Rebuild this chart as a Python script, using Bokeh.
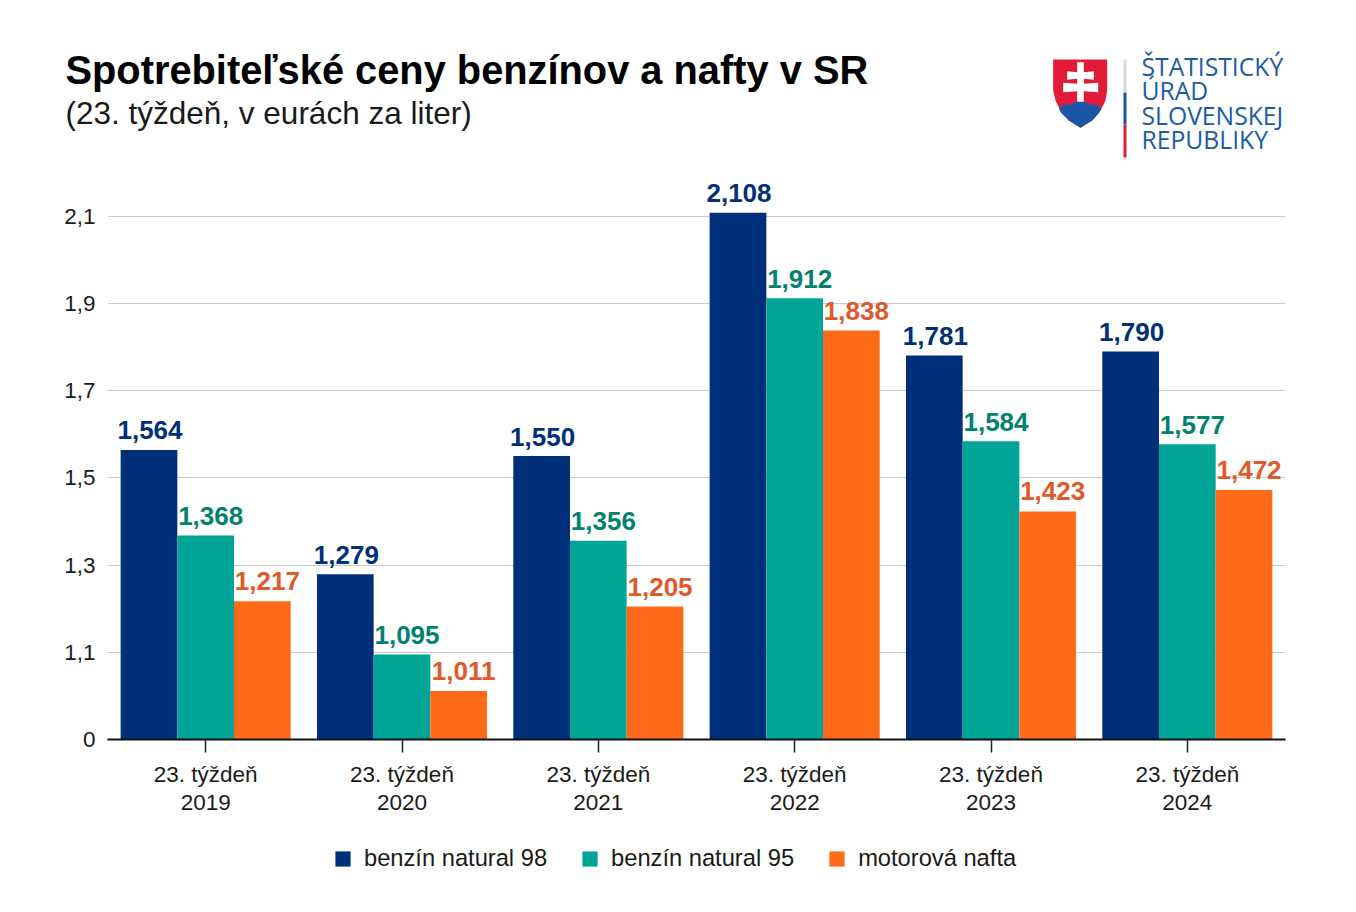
from bokeh.plotting import figure
from bokeh.embed import file_html
from bokeh.layouts import column
from bokeh.resources import INLINE
from bokeh.models import ColumnDataSource, Range1d, FixedTicker, Legend, LegendItem
from bokeh.core.properties import value

years = ["2019", "2020", "2021", "2022", "2023", "2024"]
natural_98 = [1.564, 1.279, 1.550, 2.108, 1.781, 1.790]
natural_95 = [1.368, 1.095, 1.356, 1.912, 1.584, 1.577]
nafta = [1.217, 1.011, 1.205, 1.838, 1.423, 1.472]
series_names = ["benzín natural 98", "benzín natural 95", "motorová nafta"]
y_ticks = [0.9, 1.1, 1.3, 1.5, 1.7, 1.9, 2.1]
y_labels = ["0", "1,1", "1,3", "1,5", "1,7", "1,9", "2,1"]
title_text = "Spotrebiteľské ceny benzínov a nafty v SR"
subtitle_text = "(23. týždeň, v eurách za liter)"
logo_lines = ["ŠTATISTICKÝ", "ÚRAD", "SLOVENSKEJ", "REPUBLIKY"]

FONT = "Liberation Sans"
colors = ["#002F7A", "#00A598", "#FF6A18"]
label_colors = ["#003079", "#00826F", "#E0592A"]
label_dx = [1, 5, 5]
label_dy = [-19.5, -19.5, -20]

# ---- header: title and logo, in a pixel-sized frame ----
H = 160
h = figure(width=1348, height=H, output_backend="svg", toolbar_location=None,
           x_range=Range1d(0, 1348), y_range=Range1d(H, 0), frame_align=False,
           min_border=0, min_border_left=0, min_border_right=0, min_border_top=0, min_border_bottom=0,
           x_axis_location=None, y_axis_location=None)
h.outline_line_color = None
h.grid.visible = False

def txt(t, x, yc, size, color, font=FONT, style="normal"):
    h.text(x=[x], y=[yc], text=[t], text_font=value(font), text_font_size=size, text_font_style=style,
           text_color=color, text_baseline="middle", text_align="left")

txt(title_text, 65, 69, "39.8px", "#000000", style="bold")
txt(subtitle_text, 65, 112, "31.5px", "#1a1a1a")

for line, yc in zip(logo_lines, [66, 90, 115, 139]):
    txt(line, 1141, yc, "24.7px", "#1B5BA6", font="Open Sans")

def poly(pts, color):
    h.patch(x=[1030 + a / 3 for a, b in pts], y=[40 + b / 3 for a, b in pts], fill_color=color, line_color=None)

shield = [(68, 57), (230, 57), (230, 150), (225, 180), (210, 210), (185, 240), (150, 262),
          (115, 240), (90, 210), (75, 180), (68, 150)]
poly(shield, "#E21C38")
hills = [(85, 205), (100, 192), (122, 192), (135, 185), (150, 178), (165, 185), (178, 192), (198, 192),
         (213, 205), (205, 218), (185, 240), (150, 262), (115, 240), (93, 218)]
poly(hills, "#1A56A5")
cross = [(140, 65), (160, 65), (160, 95), (190, 92), (190, 118), (160, 115), (160, 130), (203, 127),
         (203, 155), (160, 152), (160, 184), (140, 184), (140, 152), (98, 155), (98, 127), (140, 130),
         (140, 115), (110, 118), (110, 92), (140, 95)]
poly(cross, "#FFFFFF")

for (y0, y1, c) in [(59, 92, "#D5DADD"), (92, 124, "#1A56A5"), (124, 157, "#E21C38")]:
    h.quad(left=[1123], right=[1126], top=[y0], bottom=[y1], fill_color=c, line_color=None)

# ---- main chart ----
p = figure(width=1348, height=664, output_backend="svg", toolbar_location=None,
           x_range=Range1d(-0.5, 5.5), y_range=Range1d(0.9, 0.9 + 579 / 436), frame_align=False,
           frame_width=1178, frame_height=579,
           min_border_left=107, min_border_right=63, min_border_top=0, min_border_bottom=85)
p.outline_line_color = None
p.background_fill_color = "white"

BW = 0.2887
for k, (vals, c, lc) in enumerate(zip([natural_98, natural_95, nafta], colors, label_colors)):
    xs = [i + (k - 1) * BW for i in range(len(years))]
    src = ColumnDataSource(dict(x=xs, top=vals, lab=[f"{v:.3f}".replace(".", ",") for v in vals]))
    p.vbar(x="x", top="top", bottom=0.9, width=BW, fill_color=c, line_color=None, source=src)
    p.text(x="x", y="top", text="lab", source=src, text_align="center", text_baseline="middle",
           x_offset=label_dx[k], y_offset=label_dy[k], text_color=lc, text_font=value(FONT),
           text_font_style="bold", text_font_size="26px")

xa = p.xaxis[0]
xa.ticker = FixedTicker(ticks=list(range(len(years))))
xa.major_label_overrides = {i: f"23. týždeň\n{y}" for i, y in enumerate(years)}
xa.major_label_text_font = FONT
xa.major_label_text_font_size = "22.5px"
xa.major_label_text_color = "#1a1a1a"
xa.major_label_text_line_height = 1.12
xa.major_label_standoff = 9
xa.major_tick_out = 13
xa.major_tick_in = 0
xa.minor_tick_line_color = None
xa.major_tick_line_color = "#222222"
xa.major_tick_line_width = 1.5
xa.axis_line_color = "#111111"
xa.axis_line_width = 2

ya = p.yaxis[0]
ya.ticker = FixedTicker(ticks=y_ticks)
ya.major_label_overrides = dict(zip(y_ticks, y_labels))
ya.major_label_text_font = FONT
ya.major_label_text_font_size = "22.5px"
ya.major_label_text_color = "#1a1a1a"
ya.major_label_standoff = 6
ya.major_tick_line_color = None
ya.minor_tick_line_color = None
ya.axis_line_color = None

p.xgrid.visible = False
p.ygrid[0].ticker = FixedTicker(ticks=y_ticks[1:])
p.ygrid[0].grid_line_color = "#C9C9C9"
p.ygrid[0].grid_line_width = 1
p.ygrid[0].level = "underlay"

# ---- footer: legend ----
f = figure(width=1348, height=80, output_backend="svg", toolbar_location=None,
           x_range=Range1d(0, 1), y_range=Range1d(0, 1), frame_align=False,
           min_border=0, min_border_left=0, min_border_right=0, min_border_top=0, min_border_bottom=0,
           x_axis_location=None, y_axis_location=None)
f.outline_line_color = None
f.grid.visible = False
items = []
for n, c in zip(series_names, colors):
    # the keys' renderers lie outside this frame: only their legend swatches show
    r = f.vbar(x=[-5], top=[-5], bottom=[-6], width=0.1, fill_color=c, line_color=None)
    items.append(LegendItem(label=n, renderers=[r]))
legend = Legend(items=items, orientation="horizontal", location=(333, 32), border_line_color=None,
                background_fill_alpha=0, padding=0, margin=0, spacing=33, label_standoff=12,
                glyph_width=19, glyph_height=19, label_text_font=FONT, label_text_font_size="23.7px",
                label_text_color="#1a1a1a", label_height=22)
f.add_layout(legend, "center")

page = column(h, p, f, spacing=0)
open("out.html", "w").write(file_html(page, INLINE))
